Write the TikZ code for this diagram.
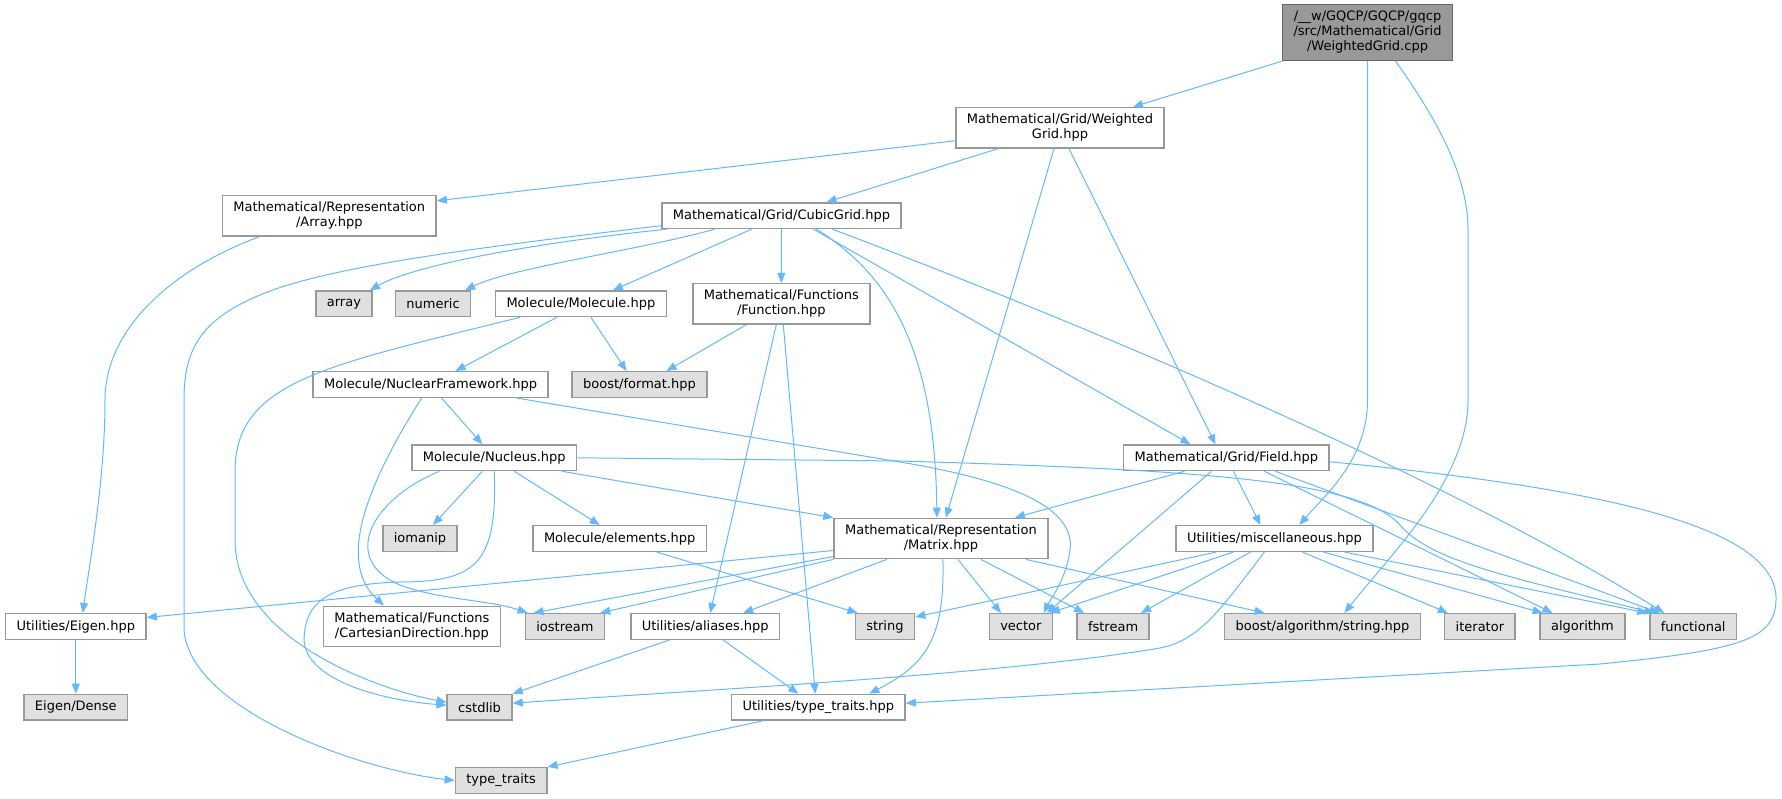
\documentclass[tikz,border=0pt]{standalone}
\usepackage{fontspec}
\setmainfont{DejaVu Sans}
\usetikzlibrary{arrows.meta}

\definecolor{edgeblue}{HTML}{63B8FF}
\definecolor{boxline}{HTML}{999999}
\definecolor{sysfill}{HTML}{E0E0E0}
\definecolor{rootfill}{HTML}{999999}
\definecolor{rootline}{HTML}{666666}

\begin{document}
\begin{tikzpicture}[x=1pt,y=-1pt,
	file/.style={draw=boxline,fill=white,line width=1.5pt,inner xsep=11pt,inner ysep=0pt,
		minimum height=25.6pt,align=center,text=black,font=\fontsize{13}{15}\selectfont},
	sys/.style={file,fill=sysfill},
	two/.style={minimum height=40.3pt},
	root/.style={file,draw=rootline,fill=rootfill,minimum height=55.6pt},
	dep/.style={draw=edgeblue,line width=1pt,-{Triangle[length=10pt,width=8pt]}}]

		\useasboundingbox (0,0) rectangle (1782,799);

		\node[root]     (root)  at (1367.5, 32.5) {/\_\_w/GQCP/GQCP/gqcp\\/src/Mathematical/Grid\\/WeightedGrid.cpp};
		\node[file,two] (wg)    at (1060.0,127.8) {Mathematical/Grid/Weighted\\Grid.hpp};
		\node[file,two] (arr)   at ( 329.3,215.8) {Mathematical/Representation\\/Array.hpp};
		\node[file]     (cg)    at ( 781.5,215.7) {Mathematical/Grid/CubicGrid.hpp};
		\node[sys]      (array) at ( 343.9,303.8) {array};
		\node[sys]      (num)   at ( 433.1,303.8) {numeric};
		\node[file]     (mol)   at ( 580.9,303.8) {Molecule/Molecule.hpp};
		\node[file,two] (fun)   at ( 781.3,303.8) {Mathematical/Functions\\/Function.hpp};
		\node[file]     (nf)    at ( 430.6,384.5) {Molecule/NuclearFramework.hpp};
		\node[sys]      (fmt)   at ( 639.5,384.5) {boost/format.hpp};
		\node[file]     (nuc)   at ( 494.3,457.8) {Molecule/Nucleus.hpp};
		\node[file]     (field) at (1226.4,457.8) {Mathematical/Grid/Field.hpp};
		\node[sys]      (iom)   at ( 420.0,538.5) {iomanip};
		\node[file]     (elem)  at ( 619.7,538.5) {Molecule/elements.hpp};
		\node[file,two] (mat)   at ( 940.9,538.5) {Mathematical/Representation\\/Matrix.hpp};
		\node[file]     (misc)  at (1274.4,538.5) {Utilities/miscellaneous.hpp};
		\node[file]     (eig)   at (  75.8,626.5) {Utilities/Eigen.hpp};
		\node[file,two] (cart)  at ( 411.9,626.5) {Mathematical/Functions\\/CartesianDirection.hpp};
		\node[sys]      (ios)   at ( 564.9,626.5) {iostream};
		\node[file]     (ali)   at ( 705.2,626.5) {Utilities/aliases.hpp};
		\node[sys]      (str)   at ( 884.9,626.5) {string};
		\node[sys]      (vec)   at (1020.9,626.5) {vector};
		\node[sys]      (fst)   at (1113.1,626.5) {fstream};
		\node[sys]      (balg)  at (1322.5,626.5) {boost/algorithm/string.hpp};
		\node[sys]      (iter)  at (1479.9,626.5) {iterator};
		\node[sys]      (algo)  at (1582.5,626.5) {algorithm};
		\node[sys]      (fnl)   at (1693.2,626.5) {functional};
		\node[sys]      (dense) at (  75.8,707.2) {Eigen/Dense};
		\node[sys]      (cstd)  at ( 479.6,707.2) {cstdlib};
		\node[file]     (tth)   at ( 818.3,707.2) {Utilities/type\_traits.hpp};
		\node[sys]      (tt)    at ( 501.1,780.5) {type\_traits};

		\draw[dep] ([xshift=-85pt]root.south) -- ([xshift=73pt]wg.north);
		\draw[dep] (root.south) -- (1367.5,400) .. controls (1367.5,460) and (1325,495) .. ([xshift=25pt]misc.north);
		\draw[dep] ([xshift=28pt]root.south) .. controls (1430,110) and (1468,170) .. (1468,230) -- (1468,400) .. controls (1468,480) and (1390,555) .. ([xshift=22pt]balg.north);

		\draw[dep] ([yshift=-13pt]wg.west) -- ([yshift=15pt]arr.east); \draw[dep] ([xshift=-62pt]wg.south) -- ([xshift=45pt]cg.north);
		\draw[dep] ([xshift=-6pt]wg.south) -- ([xshift=5pt]mat.north); \draw[dep] ([xshift=9pt]wg.south) -- ([xshift=-11pt]field.north);

		\draw[dep] ([xshift=-70pt]arr.south) .. controls (170,270) and (105,330) .. (105,400) .. controls (105,480) and (90,560) .. ([xshift=7pt]eig.north);
		\draw[dep] (eig.south) -- (dense.north);

		\draw[dep] ([xshift=-115pt]cg.south) .. controls (560,240) and (420,262) .. ([xshift=26pt]array.north);
		\draw[dep] ([xshift=-67pt]cg.south) .. controls (640,250) and (510,268) .. ([xshift=32pt]num.north);
		\draw[dep] ([xshift=-30pt]cg.south) -- ([xshift=32pt]mol.north); \draw[dep] (cg.south) -- (fun.north);
		\draw[dep] ([yshift=-10pt]cg.west) .. controls (500,245) and (330,265) .. (260,295) .. controls (200,320) and (184,350) .. (184,400) -- (184,630) .. controls (190,710) and (360,770) .. (tt.west);
		\draw[dep] ([xshift=35pt]cg.south) .. controls (890,275) and (935,350) .. ([xshift=-4pt]mat.north);
		\draw[dep] ([xshift=32pt]cg.south) -- ([xshift=-36pt]field.north);
		\draw[dep] ([xshift=51pt]cg.south) .. controls (1100,330) and (1450,480) .. ([xshift=-29pt]fnl.north);

		\draw[dep] ([xshift=-24pt]mol.south) -- ([xshift=25pt]nf.north); \draw[dep] ([xshift=10pt]mol.south) -- ([xshift=-13pt]fmt.north);
		\draw[dep] ([xshift=-61pt]mol.south) .. controls (330,365) and (236,380) .. (235,470) -- (235,540) .. controls (235,640) and (380,690) .. ([yshift=5pt]cstd.west);

		\draw[dep] ([xshift=-35pt]fun.south) -- ([xshift=27pt]fmt.north); \draw[dep] ([xshift=-5pt]fun.south) -- ([xshift=5pt]ali.north);
		\draw[dep] ([xshift=2pt]fun.south) -- ([xshift=-3pt]tth.north);

		\draw[dep] ([xshift=11pt]nf.south) -- ([xshift=-12pt]nuc.north);
		\draw[dep] ([xshift=-9pt]nf.south) .. controls (370,480) and (335,560) .. ([xshift=-28pt]cart.north);
		\draw[dep] ([xshift=86pt]nf.south) -- (900,462) .. controls (1020,482) and (1075,510) .. (1070,550) .. controls (1066,580) and (1050,600) .. ([xshift=23pt]vec.north);

		\draw[dep] ([xshift=-12pt]nuc.south) -- ([xshift=13pt]iom.north); \draw[dep] ([xshift=20pt]nuc.south) -- ([xshift=-20pt]elem.north);
		\draw[dep] ([xshift=68pt]nuc.south) -- (mat.north west);
		\draw[dep] ([xshift=-55pt]nuc.south) .. controls (370,500) and (340,560) .. (400,585) .. controls (440,600) and (490,600) .. ([xshift=3pt]ios.north west);
		\draw[dep] (nuc.south) .. controls (497,560) and (480,582) .. (400,582) .. controls (330,584) and (305,600) .. (304,640) .. controls (306,680) and (380,700) .. ([yshift=2pt]cstd.west);
		\draw[dep] (nuc.east) -- (900,461) .. controls (1200,470) and (1360,480) .. (1400,525) .. controls (1430,560) and (1500,575) .. ([xshift=-39pt]fnl.north);

		\draw[dep] ([xshift=-42pt]field.south) -- ([xshift=74pt]mat.north); \draw[dep] ([xshift=-15pt]field.south) -- ([xshift=26pt]vec.north);
		\draw[dep] ([xshift=7pt]field.south) -- ([xshift=-14pt]misc.north); \draw[dep] ([xshift=38pt]field.south) -- ([xshift=-30pt]algo.north);
		\draw[dep] ([xshift=49pt]field.south) -- ([xshift=-34pt]fnl.north);
		\draw[dep] ([yshift=-4pt]field.east) .. controls (1620,490) and (1778,530) .. (1776,600) .. controls (1775,640) and (1740,650) .. (1600,664) -- ([yshift=4pt]tth.east);

		\draw[dep] ([yshift=-12pt]mat.west) -- ([yshift=9pt]eig.east); \draw[dep] ([yshift=-18pt]mat.west) -- ([xshift=9pt]ios.north west);
		\draw[dep] (mat.south west) -- ([xshift=-5pt]ios.north east); \draw[dep] ([xshift=-54pt]mat.south) -- ([xshift=38pt]ali.north);
		\draw[dep] ([xshift=17pt]mat.south) -- ([xshift=-20pt]vec.north); \draw[dep] ([xshift=40pt]mat.south) -- ([xshift=-29pt]fst.north);
		\draw[dep] ([xshift=85pt]mat.south) -- ([xshift=-58pt]balg.north);
		\draw[dep] ([xshift=2pt]mat.south) .. controls (945,640) and (925,665) .. ([xshift=51pt]tth.north);

		\draw[dep] ([xshift=37pt]elem.south) -- ([xshift=3pt]str.north west);

		\draw[dep] ([xshift=-58pt]misc.south) -- ([yshift=-4pt]str.north east); \draw[dep] ([xshift=-41pt]misc.south) -- ([xshift=29pt]vec.north);
		\draw[dep] ([xshift=-24pt]misc.south) -- ([xshift=28pt]fst.north);
		\draw[dep] ([xshift=-10pt]misc.south) .. controls (1220,610) and (1200,640) .. (1160,648) .. controls (1000,675) and (700,690) .. ([yshift=4pt]cstd.east);
		\draw[dep] ([xshift=28pt]misc.south) -- ([xshift=-32pt]iter.north); \draw[dep] ([xshift=49pt]misc.south) -- ([xshift=-40pt]algo.north);
		\draw[dep] ([xshift=70pt]misc.south) -- ([xshift=-46pt]fnl.north);

		\draw[dep] ([xshift=-36pt]ali.south) -- (cstd.north east); \draw[dep] ([xshift=18pt]ali.south) -- ([xshift=-20pt]tth.north);
		\draw[dep] ([xshift=-55pt]tth.south) -- (tt.north east);

	\end{tikzpicture}
\end{document}
